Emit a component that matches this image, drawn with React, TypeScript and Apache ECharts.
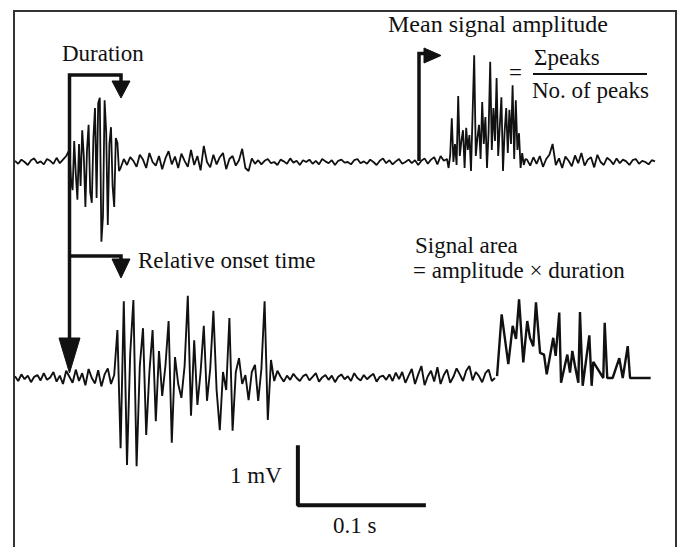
import React, { useEffect, useRef } from "react";
import * as echarts from "echarts";

// Sampling interval of the raw traces (s); bursts of the top trace are read at half that interval
const DT = 0.0025;
const DT_FINE = 0.00125;

// Top trace (mV), read segment by segment
const topQuiet1 = [0.02, -0.03, 0.04, 0.0, -0.05, 0.03, 0.06, -0.02, 0.01, -0.04, 0.05, 0.02, -0.03, 0.07, -0.02, 0.04, 0.1];
const topBurst1 = [0.2, -0.3, -0.47, 0.35, -0.2, -0.63, 0.3, -0.4, 0.53, 0.1, -0.75, 0.2, 0.62, -0.5, -0.68, 0.4, 0.9, -0.6, 0.98, 1.07, -1.33, -0.9, 1.03, 0.5, -1.05, 0.3, 0.58, -0.4, -0.75, 0.4, 0.32, -0.15];
const topAfter1 = [-0.1, 0.05, -0.05, 0.08, 0.02, -0.08, 0.12, 0.04, -0.1, 0.15, 0.0, -0.06, 0.1, -0.12, 0.06, 0.18, -0.04, 0.09, -0.1, 0.14, 0.02, -0.08, 0.2, -0.05, 0.1, -0.14, 0.27, 0.0, -0.09, 0.12, -0.04, 0.08, 0.15, -0.12, 0.05, 0.1, -0.06, 0.03, 0.22, -0.1, -0.15, 0.06, -0.03];
const topQuiet2 = [0.03, -0.04, 0.02, 0.05, -0.02, 0.0, -0.05, 0.04, 0.01, -0.03, 0.06, -0.01, 0.02, -0.05, 0.03, 0.0, 0.04, -0.03, 0.02, -0.04, 0.05, 0.01, -0.02, 0.03, -0.05, 0.02, 0.04, -0.01, 0.0, -0.04, 0.03, 0.05, -0.02, 0.01, -0.03, 0.04, 0.0, -0.05, 0.02, 0.06, -0.02, 0.03, -0.04, 0.01, 0.05, -0.03, 0.0, 0.04, -0.02, 0.03, -0.05, 0.02, 0.06, -0.03, 0.04, 0.08, -0.04, 0.1, 0.02];
const topBurst2 = [0.05, -0.1, 0.12, 0.73, 0.0, 0.3, -0.05, 1.1, 0.1, 0.35, 0.53, -0.1, 0.57, 0.2, 0.45, -0.15, 0.8, 1.78, 0.1, 0.4, 0.62, 0.05, 1.0, 0.3, 0.75, -0.1, 0.5, 1.67, 0.2, 0.9, 0.35, 1.4, 0.1, 0.6, 1.08, -0.15, 0.5, 0.9, 0.15, 0.87, 0.3, 1.28, 0.05, 1.03, 0.2, 0.48, -0.1, 0.15, -0.05, 0.05];
const topAfter2 = [0.04, -0.06, 0.08, -0.03, 0.1, -0.08, 0.05, 0.12, 0.3, -0.05, 0.06, -0.1, 0.09, 0.02, -0.07, 0.11, -0.02, 0.15, -0.06, 0.04, 0.08, -0.09, 0.12, 0.0, -0.05, 0.07, 0.03, -0.04, 0.06, -0.02, 0.04, 0.01, -0.05, 0.03, 0.05, -0.03, 0.02, 0.0, -0.04, 0.03, 0.01];

// Bottom trace (mV)
const botQuiet1 = [0.03, -0.05, 0.06, -0.02, 0.04, -0.07, 0.02, 0.05, -0.04, 0.08, -0.03, 0.01, 0.1, -0.06, 0.04, -0.1, 0.12, 0.02, -0.08, 0.14, -0.05, 0.08, -0.12, 0.15, 0.0, -0.09, 0.13, -0.14, 0.06, 0.16, -0.1, 0.05];
const botBurst = [0.8, -1.17, 1.28, -1.45, 0.4, 1.3, -1.47, 0.2, 0.83, -0.95, 0.1, 0.8, -0.72, 0.45, -0.3, 0.2, 0.95, -1.08, 0.35, -0.1, -0.33, 0.2, 1.37, -0.63, 0.63, -0.45, 0.1, 0.87, -0.38, 0.15, 1.12, -0.2, -0.87, 0.1, -0.2, 1.0, -0.88, 0.1, 0.33, -0.1, 0.05, -0.37, 0.1, 0.22, -0.38, 0.15, 1.28, -0.7, 0.3];
const botQuiet2 = [-0.05, 0.12, 0.02, -0.06, 0.04, -0.03, 0.07, 0.0, -0.05, 0.03, 0.06, -0.04, 0.02, 0.08, -0.06, 0.01, 0.05, -0.03, 0.04, -0.07, 0.02, 0.06, -0.02, 0.03, -0.05, 0.08, 0.0, -0.04, 0.05, -0.02, 0.03, 0.07, -0.06, 0.02, 0.04, -0.03, 0.06, -0.05, 0.09, -0.02];
const botQuiet3 = [0.1, -0.08, 0.04, 0.15, -0.1, 0.06, 0.2, -0.12, 0.03, 0.12, -0.06, 0.18, -0.1, 0.05, 0.14, -0.08, 0.02, 0.16, 0.06, -0.05, 0.12, 0.2, -0.04, 0.1, 0.03, -0.07, 0.08, 0.14, -0.05, 0.0];

// Rectified part of the bottom trace
const rectTimesMs = [376.6, 380.2, 385.4, 388.8, 391.4, 393.8, 397.1, 400.2, 402.3, 404.9, 407.0, 410.2, 413.3, 415.4, 418.0, 420.5, 422.4, 425.2, 426.6, 431.5, 433.6, 435.4, 437.5, 440.1, 441.4, 443.5, 448.7, 450.5, 451.8, 459.6, 460.7, 462.7, 466.9, 472.1, 474.8, 478.7, 480.5, 496.6];
const rectValues = [0.03, 1.06, 0.23, 0.87, 0.65, 1.31, 0.26, 0.95, 0.67, 0.53, 1.26, 0.42, 0.39, 0.06, 0.37, 0.67, 0.37, 1.09, -0.08, 0.39, 0.09, 0.45, 0.2, -0.08, 1.1, -0.13, 0.71, -0.13, 0.27, 0.0, 0.92, 0.0, 0.0, 0.33, 0.0, 0.53, 0.0, 0.0];

// Scale bar: 0.1 s by 1 mV
const scaleT0 = 0.221;
const scaleDt = 0.1;
const scaleV0 = -2.12;
const scaleDv = 1;

const topSegments: [number[], number][] = [
  [topQuiet1, DT],
  [topBurst1, DT_FINE],
  [topAfter1, DT],
  [topQuiet2, DT],
  [topBurst2, DT_FINE],
  [topAfter2, DT],
];
const botSegments: [number[], number][] = [
  [botQuiet1, DT],
  [botBurst, DT],
  [botQuiet2, DT],
  [botQuiet3, DT],
];

const FONT = "'Liberation Serif', 'Times New Roman', serif";
const INK = "#111";

function buildTrace(segments: [number[], number][]) {
  const out: number[][] = [];
  let t = 0;
  for (const [vals, dt] of segments) {
    for (const v of vals) {
      out.push([t, v]);
      t += dt;
    }
  }
  return out;
}

export default function App() {
  const ref = useRef<HTMLDivElement>(null);
  useEffect(() => {
    if (!ref.current) return;
    const chart = echarts.init(ref.current, null, { renderer: "svg" });
    const rect = rectTimesMs.map((t, i) => [t / 1000, rectValues[i]]);
    const txt = (text: string, x: number, y: number, extra: any = {}) => ({
      type: "text",
      x,
      y,
      z: 10,
      style: { text, fontSize: 23, fontFamily: FONT, fill: INK, align: "left", verticalAlign: "middle", ...extra },
    });
    const line = (points: number[][], width = 3.5) => ({
      type: "polyline",
      z: 10,
      shape: { points },
      style: { stroke: INK, lineWidth: width, fill: null },
    });
    const tri = (points: number[][]) => ({
      type: "polygon",
      z: 10,
      shape: { points },
      style: { fill: INK, stroke: INK, lineWidth: 1 },
    });
    const lineSeries = (data: number[][], idx: number, width: number) => ({
      type: "line",
      xAxisIndex: idx,
      yAxisIndex: idx,
      data,
      symbol: "none",
      showSymbol: false,
      silent: true,
      lineStyle: { color: INK, width },
    });
    chart.setOption({
      animation: false,
      backgroundColor: "#fff",
      grid: [
        { left: 15, width: 640, top: 42, height: 240 },
        { left: 15, width: 640, top: 258, height: 270 },
      ],
      xAxis: [
        { type: "value", gridIndex: 0, min: 0, max: 0.5, show: false },
        { type: "value", gridIndex: 1, min: 0, max: 0.5, show: false },
      ],
      yAxis: [
        { type: "value", gridIndex: 0, min: -2, max: 2, show: false },
        { type: "value", gridIndex: 1, min: -2.5, max: 2, show: false },
      ],
      series: [
        lineSeries(buildTrace(topSegments), 0, 1.8),
        lineSeries(buildTrace(botSegments), 1, 1.9),
        lineSeries(rect, 1, 2.4),
        lineSeries(
          [
            [scaleT0, scaleV0 + scaleDv],
            [scaleT0, scaleV0],
            [scaleT0 + scaleDt, scaleV0],
          ],
          1,
          4
        ),
      ],
      graphic: [
        {
          type: "polyline",
          shape: { points: [[14, 560], [14, 11], [676, 11], [676, 560]] },
          style: { stroke: "#333", lineWidth: 2, fill: null },
        },
        // Duration bracket + long onset arrow
        line([[69.5, 340], [69.5, 75], [121, 75], [121, 82]]),
        tri([[112, 81], [130, 81], [121, 98]]),
        line([[69.5, 256], [121, 256], [121, 260]]),
        tri([[112, 259], [130, 259], [121, 278]]),
        tri([[59, 338], [80, 338], [69.5, 373]]),
        // Mean amplitude flag
        line([[419, 161], [419, 53.5], [426, 53.5]]),
        tri([[424, 48], [424, 63], [441, 55.5]]),
        // fraction line
        line([[533, 74], [647, 74]], 2),
        txt("Duration", 62, 53),
        txt("Relative onset time", 138, 260),
        txt("Mean signal amplitude", 388, 24, { fontSize: 24 }),
        txt("=", 509, 72),
        txt("Σpeaks", 534, 57),
        txt("No. of peaks", 532, 90),
        txt("Signal area", 415, 245),
        txt("= amplitude × duration", 413, 270),
        txt("1 mV", 230, 475),
        txt("0.1 s", 333, 525),
      ],
    });
    return () => chart.dispose();
  }, []);
  return (
    <div
      ref={ref}
      style={{ position: "fixed", left: 0, top: 0, width: 679, height: 547, background: "#fff" }}
    />
  );
}
